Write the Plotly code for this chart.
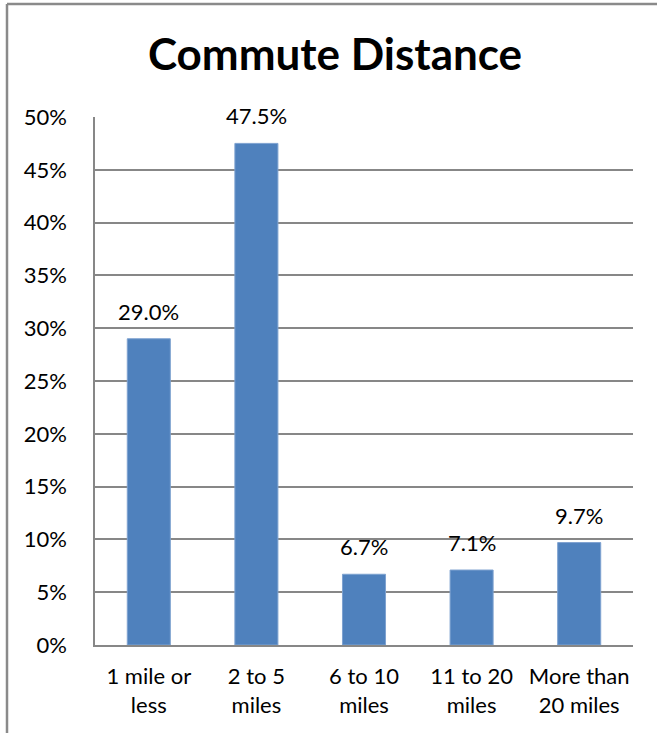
import plotly.graph_objects as go

categories = ["1 mile or<br>less", "2 to 5<br>miles", "6 to 10<br>miles", "11 to 20<br>miles", "More than<br>20 miles"]
shares = [0.290, 0.475, 0.067, 0.071, 0.097]

W, H = 657, 733
L, R, T, B = 95, 24, 117, 88
pw = W - L - R
ph = H - T - B

FONT = "Lato"
GRID = "#878787"
FS = 22

fig = go.Figure(
    go.Bar(
        x=categories,
        y=shares,
        width=0.4,
        marker=dict(color="#4F81BD", line=dict(color="#7EA2D0", width=1)),
        cliponaxis=False,
    )
)

# value labels above each bar
for c, v in zip(categories, shares):
    fig.add_annotation(
        x=c, y=v, xref="x", yref="y",
        text=f"{v:.1%}", showarrow=False,
        yanchor="bottom", yshift=12,
        font=dict(family=FONT, size=FS, color="#000000"),
    )

# chart-frame edges (left and top)
fx0 = (7 - L) / pw
fy_top = (H - 4 - B) / ph
fig.add_shape(type="line", xref="paper", yref="paper", x0=fx0, x1=(W + 5 - L) / pw,
              y0=fy_top, y1=fy_top, line=dict(color="#8A8A8A", width=2.5))
fig.add_shape(type="line", xref="paper", yref="paper", x0=fx0, x1=fx0,
              y0=fy_top, y1=-B / ph - 0.05, line=dict(color="#8A8A8A", width=2.5))

fig.update_layout(
    width=W,
    height=H,
    margin=dict(l=L, r=R, t=T, b=B),
    paper_bgcolor="white",
    plot_bgcolor="white",
    showlegend=False,
    title=dict(
        text="<b>Commute Distance</b>",
        x=335 / W,
        xanchor="center",
        xref="container",
        y=1 - 55 / H,
        yanchor="middle",
        yref="container",
        font=dict(family=FONT, size=44, color="#000000"),
    ),
    xaxis=dict(
        showgrid=False,
        showline=True,
        linecolor=GRID,
        linewidth=1.5,
        ticks="",
        tickfont=dict(family=FONT, size=FS, color="#000000"),
        ticklabelstandoff=11,
    ),
    yaxis=dict(
        range=[0, 0.5],
        dtick=0.05,
        tickformat=".0%",
        showgrid=True,
        gridcolor=GRID,
        gridwidth=1.5,
        showline=True,
        linecolor=GRID,
        linewidth=1.5,
        ticks="",
        zeroline=False,
        tickfont=dict(family=FONT, size=FS, color="#000000"),
        ticklabelstandoff=22,
    ),
)

fig.write_html("out.html")
